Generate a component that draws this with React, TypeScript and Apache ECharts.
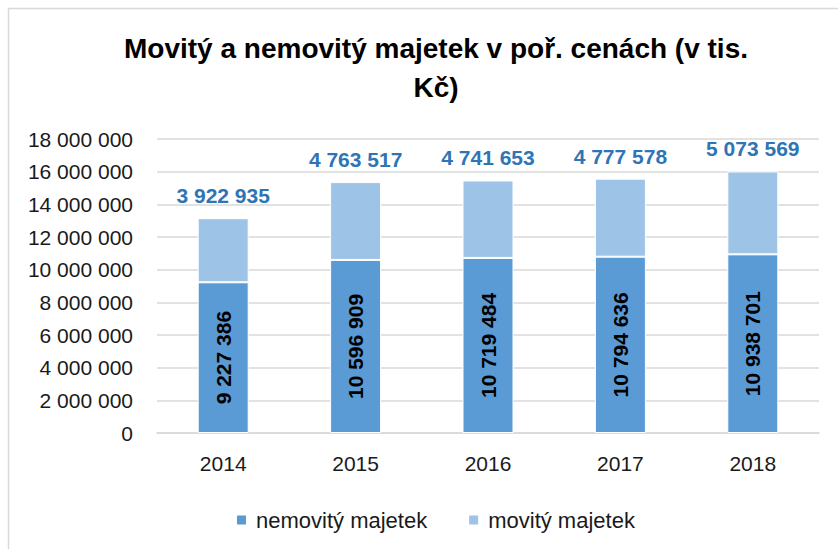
import React, { useEffect, useRef } from "react";
import * as echarts from "echarts";

const categories = ["2014", "2015", "2016", "2017", "2018"];
const nemovity = [9227386, 10596909, 10719484, 10794636, 10938701];
const movity = [3922935, 4763517, 4741653, 4777578, 5073569];
const seriesNames = ["nemovitý majetek", "movitý majetek"];
const titleText = "Movitý a nemovitý majetek v poř. cenách (v tis.\nKč)";

const fmt = (v: number) => String(Math.round(v)).replace(/\B(?=(\d{3})+(?!\d))/g, " ");

export default function App() {
  const ref = useRef<HTMLDivElement>(null);
  useEffect(() => {
    document.body.style.margin = "0";
    const chart = echarts.init(ref.current!, undefined, { renderer: "svg" });
    const font = "'Liberation Sans', Arial, sans-serif";
    chart.setOption({
      animation: false,
      backgroundColor: "#ffffff",
      title: {
        text: titleText,
        left: 431,
        top: 24,
        textAlign: "center",
        textStyle: {
          fontFamily: font,
          fontWeight: "bold",
          fontSize: 28,
          lineHeight: 39,
          color: "#000000",
        },
      },
      graphic: [
        { type: "line", shape: { x1: 8.5, y1: 8, x2: 8.5, y2: 549 }, style: { stroke: "#D9D9D9", lineWidth: 1.5 } },
        { type: "line", shape: { x1: 8, y1: 8.5, x2: 838, y2: 8.5 }, style: { stroke: "#D9D9D9", lineWidth: 1.5 } },
      ],
      legend: {
        data: seriesNames,
        bottom: 18,
        left: 235,
        padding: 0,
        itemWidth: 11,
        itemHeight: 11,
        itemGap: 40,
        icon: "rect",
        textStyle: { fontFamily: font, fontSize: 22, color: "#1a1a1a", padding: [0, 0, 0, 4] },
      },
      grid: { left: 157, right: 19, top: 139, bottom: 116, containLabel: false },
      xAxis: {
        type: "category",
        data: categories,
        axisLine: { show: true, lineStyle: { color: "#D9D9D9", width: 1.5 } },
        axisTick: { show: false },
        axisLabel: { fontFamily: font, fontSize: 21, color: "#1a1a1a", margin: 20 },
      },
      yAxis: {
        type: "value",
        min: 0,
        max: 18000000,
        interval: 2000000,
        axisLine: { show: false },
        axisTick: { show: false },
        splitLine: { lineStyle: { color: "#D9D9D9", width: 1.5 } },
        axisLabel: { fontFamily: font, fontSize: 21, color: "#1a1a1a", margin: 24, formatter: (v: number) => fmt(v) },
      },
      series: [
        {
          name: seriesNames[0],
          type: "bar",
          stack: "total",
          data: nemovity,
          barWidth: 51,
          itemStyle: { color: "#5B9BD5", borderColor: "#ffffff", borderWidth: 1 },
          label: {
            show: true,
            position: "inside",
            rotate: 90,
            fontFamily: font,
            fontWeight: "bold",
            fontSize: 21,
            color: "#000000",
            formatter: (p: any) => fmt(p.value),
          },
        },
        {
          name: seriesNames[1],
          type: "bar",
          stack: "total",
          data: movity,
          barWidth: 51,
          itemStyle: { color: "#9DC3E6", borderColor: "#ffffff", borderWidth: 1 },
          label: {
            show: true,
            position: "top",
            distance: 12,
            fontFamily: font,
            fontWeight: "bold",
            fontSize: 21,
            color: "#2E75B6",
            formatter: (p: any) => fmt(p.value),
          },
        },
      ],
    });
    return () => chart.dispose();
  }, []);
  return <div ref={ref} style={{ width: 838, height: 549, position: "absolute", left: 0, top: 0 }} />;
}
